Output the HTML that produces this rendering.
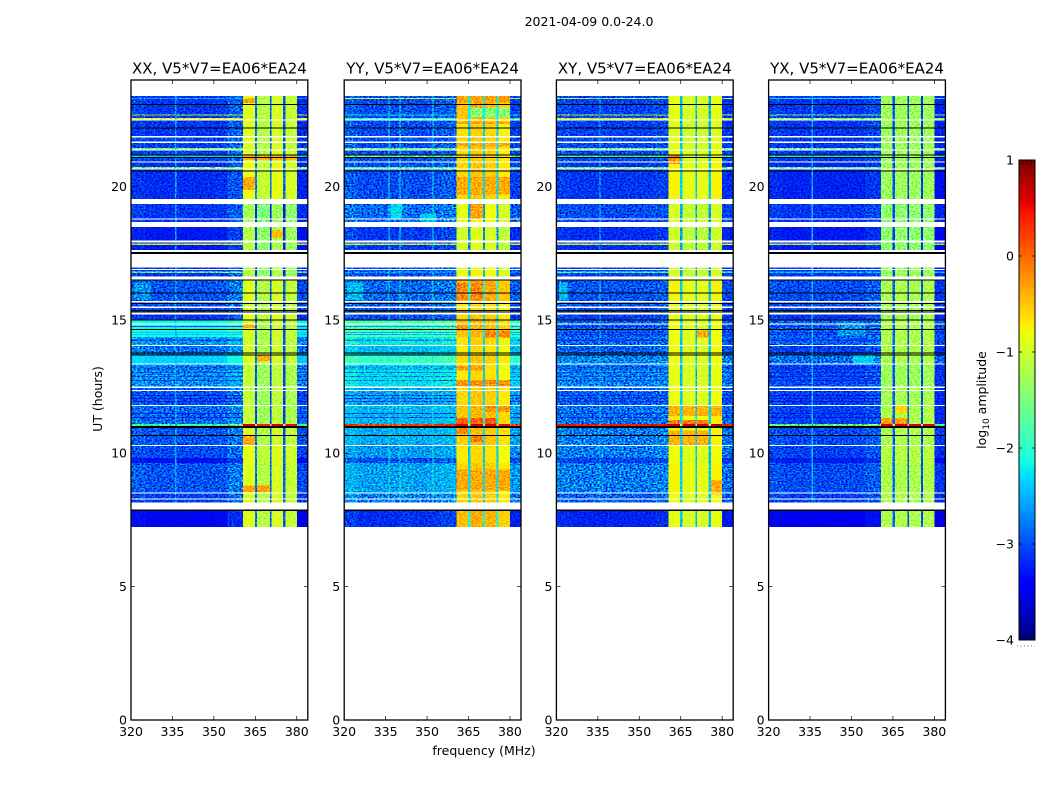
<!DOCTYPE html>
<html lang="en">
<head>
<meta charset="utf-8">
<title>2021-04-09 0.0-24.0</title>
<style>
html,body{margin:0;padding:0;background:#fff;width:1050px;height:800px;overflow:hidden}
svg{display:block;font-family:"DejaVu Sans","Liberation Sans",sans-serif}
text{fill:#000}
</style>
</head>
<body>
<svg id="fig" xmlns="http://www.w3.org/2000/svg" width="1050" height="800" viewBox="0 0 1050 800">
<defs>
<filter id="speckle" filterUnits="userSpaceOnUse" x="0" y="0" width="1050" height="800" color-interpolation-filters="sRGB">
<feTurbulence type="fractalNoise" baseFrequency="0.5 0.7" numOctaves="1" seed="4"/>
<feColorMatrix type="matrix" values="3 0 0 0 -1  3 0 0 0 -1  3 0 0 0 -1  0 0 0 0 1"/>
</filter>
<filter id="speckle-dark" filterUnits="userSpaceOnUse" x="0" y="0" width="1050" height="800" color-interpolation-filters="sRGB">
<feTurbulence type="fractalNoise" baseFrequency="0.45 0.65" numOctaves="1" seed="11"/>
<feColorMatrix type="matrix" values="1.1 0 0 0 0.43  1.1 0 0 0 0.43  1.1 0 0 0 0.43  0 0 0 0 1"/>
</filter>
</defs>
<rect x="0" y="0" width="1050" height="800" fill="#fff"/>
<text x="589" y="26" font-size="12.5" text-anchor="middle">2021-04-09 0.0-24.0</text>
<text x="484" y="755" font-size="12.5" text-anchor="middle">frequency (MHz)</text>
<text x="0" y="0" font-size="12.5" text-anchor="middle" transform="translate(102 399) rotate(-90)">UT (hours)</text>
<text x="0" y="0" font-size="12.5" text-anchor="middle" transform="translate(986 400) rotate(-90)">log<tspan font-size="9" dy="3">10</tspan><tspan dy="-3"> amplitude</tspan></text>
</svg>
<script>
// ---- chart data ----
var panelNames = ["XX", "YY", "XY", "YX"];
var panelTitleSuffix = ", V5*V7=EA06*EA24";
var xTickLabels = [320, 335, 350, 365, 380];
var yTickLabels = [0, 5, 10, 15, 20];
var colorbarTicks = [1, 0, -1, -2, -3, -4];

// frequency channel edges (MHz)
var freqEdges = [320,325,330,335,340,345,350,355,360.6,364.8,365.7,370.3,370.9,375.1,375.9,380,384];
// 1 = channel follows the in-band level, 0 = follows the out-of-band level
var channelInBand = [0,0,0,0,0,0,0,0,1,1,1,1,1,1,1,0];
// channels between the sub-bands
var channelIsNotch = [0,0,0,0,0,0,0,0,0,1,0,1,0,1,0,0];
// per-channel offsets (log10 amplitude)
var profileXX = [.05,0,0,0,0,0,.02,.2,.05,-1.9,-.2,-2,0,-2,-.1,-.05];
var profileYY = [.1,0,0,0,.05,0,.05,.1,0,-1.7,.1,-1.7,.05,-1.7,-.1,-.05];
var profileXY = [.05,0,0,0,0,0,0,.05,.05,-1.55,-.05,-1.6,-.05,-1.6,.05,-.05];
var profileYX = [.05,0,0,0,0,0,0,.1,0,-1.7,.02,-1.8,0,-1.8,.02,-.1];

// time blocks (UT hours)
var blockEnd   = [23.4,22.5,21.86,20.92,19.35,18.49,16.98,16.5,15.66,15.2,15,14.36,14.03,13.69,13.33,12.45,11.78,11.1,10.95,10.28,9.825,9.64,8.5,7.84];
var blockStart = [22.5,21.86,20.92,19.54,18.68,17.62,16.5,15.71,15.27,15,14.36,14.06,13.69,13.37,12.5,11.81,11.1,11.02,10.28,9.825,9.64,8.54,8.15,7.24];
// out-of-band level per block (log10 amplitude)
var leftXX = [-3.1,-3.1,-3.05,-3.15,-3.1,-3.25,-3.1,-2.95,-3,-3.1,-2.15,-2.6,-2.8,-2.35,-2.65,-2.95,-2.85,-1.8,-2.95,-3,-3.3,-2.95,-3.05,-3.35];
var leftYY = [-3,-3,-3,-3,-2.85,-3.1,-3,-2.85,-2.95,-3,-1.85,-2.2,-2.4,-1.95,-2.25,-2.55,-2.45,.2,-2.5,-2.6,-3,-2.55,-2.75,-3.15];
var leftXY = [-3.05,-3.05,-3,-3.1,-3,-3.15,-3.05,-2.95,-2.95,-3.05,-2.9,-2.85,-2.9,-2.7,-2.7,-2.9,-2.8,.4,-2.75,-2.75,-3.05,-2.75,-2.9,-3.2];
var leftYX = [-3.1,-3.1,-3.1,-3.2,-3.1,-3.25,-3.1,-3,-3,-3.1,-2.9,-2.9,-3.05,-2.8,-3,-3.05,-3.05,-1.6,-3,-3.05,-3.25,-3,-3.05,-3.4];
// in-band level per block
var bandXX = [-.95,-.95,-.95,-.85,-1.3,-1.2,-1.2,-.95,-1,-.9,-1,-1,-1,-.95,-1.1,-1.1,-1.1,.6,-1,-.9,-.9,-.95,-.95,-.95];
var bandYY = [-.5,-.65,-.6,-.6,-.85,-1,-.85,-.4,-.7,-.6,-.5,-.65,-.7,-.6,-.7,-.6,-.5,.6,-.55,-.7,-.7,-.6,-.6,-.45];
var bandXY = [-.9,-.95,-.9,-.8,-1,-1.05,-1,-.8,-.9,-.85,-.85,-.85,-.85,-.85,-.9,-.85,-.75,.7,-.8,-.85,-.85,-.8,-.85,-.9];
var bandYX = [-1.3,-1.3,-1.3,-1.3,-1.4,-1.4,-1.3,-1.2,-1.25,-1.25,-1.2,-1.2,-1.2,-1.2,-1.3,-1.25,-1.2,.6,-1.2,-1.15,-1.15,-1.2,-1.2,-1.2];
// blocks whose out-of-band level is smooth rather than speckled
var smoothXX = [10, 13];
var smoothYY = [10, 13];
var smoothXY = [];
var smoothYX = [];

// narrow interference / dropout rows drawn across the out-of-band channels
var lineEnd   = [23.33,22.71,22.575,21.45,21.173,20.74,17.87,16.81,14.78,14.27,14.55,14.47,13.26,13.18,13.05,12.9,12.75,12.19,12.08,11.96,11.51,11.36];
var lineStart = [23.29,22.66,22.526,21.40,21.113,20.69,17.81,16.76,14.73,14.21,14.52,14.44,13.23,13.15,13.02,12.87,12.72,12.16,12.05,11.93,11.48,11.33];
var lineXX = [-2.5,-1.2,-.8,-1.4,-2.3,-1.4,-.9,-1.5,-3,-3,-2.4,-2.4,-3,-3,-3,-3,-3,-3.2,-3.2,-3.2,-3.2,-3.2];
var lineYY = [-1,-2.2,-1.9,-1.5,-1.6,-1.8,-1,-2.6,-2.6,-2.6,-2.5,-2.5,-2.7,-2.7,-2.7,-2.7,-2.7,-3,-3,-3,-3,-3];
var lineXY = [-1.2,-1.2,-.9,-1.5,-2,-1.5,-1,-1.8,-3.1,-3.1,-3.1,-3.1,-3.1,-3,-3,-3,-3,-3.1,-3.1,-3.1,-3.1,-3.1];
var lineYX = [-2.2,-1.6,-1.3,-1.6,-2.2,-1.7,-1.1,-2.4,-3.1,-3.1,-3.1,-3.1,-3.2,-3.2,-3.2,-3.2,-3.2,-3.25,-3.25,-3.25,-3.25,-3.25];

// local patches: brighter sub-band stretches, sky blobs and narrow vertical spurs
var hotPanel = ["YY","YY","YY","YY","YY","YY","YY","YY","YY","YY","YY","YY","YY","YY","YY","YY","XX","XX","XX","XX","XX","XX","XX","XX","XY","XY","XY","XY","XY","XY","YX","YX","YY","YY","XX","YY","XY","YX","YX","XX","YY","YY","YY","XY","YX"];
var hotEnd   = [23.4,22.95,22.45,21.65,20.36,19.35,16.39,14.85,14.6,13.3,12.75,11.78,11.33,10.95,10.65,9.4,23.3,20.36,21.2,18.38,13.69,10.7,8.8,14.85,14.6,11.8,11.25,10.85,9,21.2,11.33,11.8,19.35,19,16.4,16.4,16.4,13.69,14.9,23.4,23.4,23.4,23.4,23.4,23.4];
var hotStart = [23.14,22.6,22.35,21.5,19.7,18.8,15.75,14.6,14.35,13.1,12.53,11.55,11.1,10.73,10.43,8.6,23.14,19.88,21,18.08,13.46,10.3,8.55,14.7,14.35,11.4,11.1,10.3,8.45,20.85,11.1,11.5,18.8,18.7,15.75,15.75,15.75,13.37,14.4,8.2,8.2,8.2,8.2,8.2,8.2];
var hotF0    = [360.6,365.7,360.6,360.6,360.6,365.7,360.6,360.6,370.9,360.6,360.6,370.9,360.6,360.6,365.7,360.6,360.6,360.6,360.6,370.9,365.7,360.6,360.6,360.6,370.9,360.6,360.6,360.6,375.9,360.6,360.6,365.7,336.7,347.5,321,321,321,350.6,345,336,336,340,352,335.6,335.6];
var hotF1    = [380,380,380,380,380,370.3,370.3,364.8,380,370.3,380,380,375.1,364.8,370.3,380,364.8,364.8,380,375.1,370.3,364.8,370.3,364.8,375.1,380,375.1,375.1,380,364.8,370.3,370.3,341,353.3,327,327,324,358,355,336.4,336.4,340.4,352.4,336,336];
var hotLevel = [-.3,-1.45,-.35,-.35,-.35,-.3,-.15,-.25,-.15,-.3,-.2,-.25,.05,-.15,-.1,-.35,-.3,-.35,-.4,-.45,-.35,-.35,-.3,-.4,-.35,-.4,-.1,-.4,-.35,-.2,-.3,-.6,-2.25,-2.3,-2.6,-2.4,-2.4,-2.3,-2.6,-2.5,-2.2,-2.2,-2.2,-2.4,-2.4];

// flagged (blank) time ranges, UT hours
var whiteEnd   = [22.526,21.9,21.686,21.401,20.936,20.689,19.538,18.814,18.675,17.974,17.625,17.475,16.913,16.624,15.713,15.499,15.274,14.876,14.063,13.369,12.499,12.375,11.813,10.313,8.539,8.314,8.149];
var whiteStart = [22.474,21.851,21.638,21.364,20.899,20.651,19.35,18.761,18.488,17.914,17.55,16.976,16.875,16.526,15.664,15.45,15.199,14.839,14.025,13.331,12.45,12.338,11.775,10.275,8.501,8.276,7.901];
// zero-amplitude time ranges, UT hours
var blackEnd   = [23.1,22.226,21.199,21.113,20.599,17.55,16.526,16.024,15.638,15.375,15.319,15.011,14.663,13.789,13.699,11.025,10.688,7.901];
var blackStart = [23.063,22.189,21.173,21.075,20.561,17.475,16.474,15.986,15.593,15.345,15.274,14.981,14.633,13.751,13.661,10.95,10.65,7.838];

var profiles = {XX: profileXX, YY: profileYY, XY: profileXY, YX: profileYX};
var lefts = {XX: leftXX, YY: leftYY, XY: leftXY, YX: leftYX};
var bands = {XX: bandXX, YY: bandYY, XY: bandXY, YX: bandYX};
var lines = {XX: lineXX, YY: lineYY, XY: lineXY, YX: lineYX};
var smooths = {XX: smoothXX, YY: smoothYY, XY: smoothXY, YX: smoothYX};

// ---- layout ----
var axLeft = {XX: 131, YY: 344.2, XY: 556.4, YX: 768.6};
var axWidth = 176.8, axTop = 80, axBottom = 720;
var freqMin = 320, freqMax = 384, timeMin = 0, timeMax = 24;
var cbLeft = 1019, cbRight = 1035, cbTop = 160, cbBottom = 640, cbMin = -4, cbMax = 1;

function xScale(name, f) { return axLeft[name] + (f - freqMin) / (freqMax - freqMin) * axWidth; }
function yScale(h) { return axBottom - (h - timeMin) / (timeMax - timeMin) * (axBottom - axTop); }
function cbScale(v) { return cbBottom - (v - cbMin) / (cbMax - cbMin) * (cbBottom - cbTop); }

function interp(t, xs, ys) {
  if (t <= xs[0]) return ys[0];
  for (var i = 1; i < xs.length; i++) {
    if (t <= xs[i]) return ys[i-1] + (ys[i] - ys[i-1]) * (t - xs[i-1]) / (xs[i] - xs[i-1]);
  }
  return ys[ys.length - 1];
}
function jet(v) {
  var t = Math.max(0, Math.min(1, (v - cbMin) / (cbMax - cbMin)));
  var r = interp(t, [0,.35,.66,.89,1], [0,0,1,1,.5]);
  var g = interp(t, [0,.125,.375,.64,.91,1], [0,0,1,1,0,0]);
  var b = interp(t, [0,.11,.34,.65,1], [.5,1,1,0,0]);
  return "rgb(" + Math.round(r*255) + "," + Math.round(g*255) + "," + Math.round(b*255) + ")";
}

var svg = document.getElementById("fig");
var NS = "http://www.w3.org/2000/svg";
function make(tag, parent, props) {
  var e = document.createElementNS(NS, tag);
  for (var k in props) e.setAttribute(k, props[k]);
  parent.appendChild(e);
  return e;
}
var defs = svg.querySelector("defs");

panelNames.forEach(function (name) {
  var low = name.toLowerCase();
  var g = make("g", svg, {});
  
  

  var heat = make("g", g, {"shape-rendering": "crispEdges"});
  
  

  blockStart.forEach(function (h0, b) {
    var h1 = blockEnd[b];
    for (var c = 0; c < freqEdges.length - 1; c++) {
      var base = channelInBand[c] ? bands[name][b] : lefts[name][b];
      var x0 = xScale(name, freqEdges[c]), x1 = xScale(name, freqEdges[c + 1]);
      var cell = make("rect", heat, {x: x0, y: yScale(h1), width: x1 - x0, height: yScale(h0) - yScale(h1), fill: jet(base + profiles[name][c])});
      
      
    }
  });

  lineStart.forEach(function (h0, i) {
    var h1 = lineEnd[i];
    for (var c = 0; c < freqEdges.length - 1; c++) {
      if (channelInBand[c]) continue;
      var x0 = xScale(name, freqEdges[c]), x1 = xScale(name, freqEdges[c + 1]);
      var row = make("rect", heat, {x: x0, y: yScale(h1), width: x1 - x0, height: Math.max(1, yScale(h0) - yScale(h1)), fill: jet(lines[name][i])});
      
      
    }
  });

  hotPanel.forEach(function (p, i) {
    if (p !== name) return;
    for (var c = 0; c < freqEdges.length - 1; c++) {
      if (channelIsNotch[c]) continue;
      var f0 = Math.max(hotF0[i], freqEdges[c]), f1 = Math.min(hotF1[i], freqEdges[c + 1]);
      if (f1 <= f0) continue;
      var patch = make("rect", heat, {x: xScale(name, f0), y: yScale(hotEnd[i]), width: xScale(name, f1) - xScale(name, f0), height: yScale(hotStart[i]) - yScale(hotEnd[i]), fill: jet(hotLevel[i])});
      
      
    }
  });

  // speckle texture: strong out of band, weak in band and in smooth blocks
  var bandLo = freqEdges[8], bandHi = freqEdges[15];
  var clipStrong = make("clipPath", defs, {id: "clip-strong-" + low});
  var clipWeak = make("clipPath", defs, {id: "clip-weak-" + low});
  make("rect", clipWeak, {x: xScale(name, bandLo), y: yScale(blockEnd[0]), width: xScale(name, bandHi) - xScale(name, bandLo), height: yScale(blockStart[blockStart.length - 1]) - yScale(blockEnd[0])});
  blockStart.forEach(function (h0, b) {
    var target = smooths[name].indexOf(b) >= 0 ? clipWeak : clipStrong;
    var y = yScale(blockEnd[b]), hgt = yScale(h0) - y;
    make("rect", target, {x: xScale(name, freqMin), y: y, width: xScale(name, bandLo) - xScale(name, freqMin), height: hgt});
    make("rect", target, {x: xScale(name, bandHi), y: y, width: xScale(name, freqMax) - xScale(name, bandHi), height: hgt});
  });

  var strongWrap = make("g", g, {"clip-path": "url(#clip-strong-" + low + ")", style: "mix-blend-mode:overlay"});
  
  
  var strongNoise = make("rect", strongWrap, {x: 0, y: 0, width: 1050, height: 800, filter: "url(#speckle)"});
  
  

  var darkWrap = make("g", g, {"clip-path": "url(#clip-strong-" + low + ")", style: "mix-blend-mode:multiply"});
  
  
  var darkNoise = make("rect", darkWrap, {x: 0, y: 0, width: 1050, height: 800, filter: "url(#speckle-dark)"});
  
  

  var weakWrap = make("g", g, {"clip-path": "url(#clip-weak-" + low + ")", style: "mix-blend-mode:overlay", opacity: .6});
  
  
  var weakNoise = make("rect", weakWrap, {x: 0, y: 0, width: 1050, height: 800, filter: "url(#speckle)"});
  
  

  var x0 = axLeft[name];
  whiteStart.forEach(function (h0, i) {
    var gap = make("rect", g, {x: x0, y: yScale(whiteEnd[i]), width: axWidth, height: yScale(h0) - yScale(whiteEnd[i]), fill: "#fff", "shape-rendering": "crispEdges"});
    
    
  });
  blackStart.forEach(function (h0, i) {
    var gap = make("rect", g, {x: x0, y: yScale(blackEnd[i]), width: axWidth, height: yScale(h0) - yScale(blackEnd[i]), fill: "#000", "shape-rendering": "crispEdges"});
    
    
  });

  var frame = make("rect", g, {x: x0, y: axTop, width: axWidth, height: axBottom - axTop, fill: "none", stroke: "#000", "stroke-width": 1.3});
  
  

  xTickLabels.forEach(function (f) {
    var x = xScale(name, f);
    var t1 = make("line", g, {x1: x, x2: x, y1: axBottom, y2: axBottom - 4, stroke: "#000", "stroke-width": .7});
    
    
    var t2 = make("line", g, {x1: x, x2: x, y1: axTop, y2: axTop + 4, stroke: "#000", "stroke-width": .7});
    
    
    var lab = make("text", g, {x: x, y: 736, "font-size": 12.5, "text-anchor": "middle"});
    lab.textContent = f;
    
    
  });
  yTickLabels.forEach(function (h) {
    var y = yScale(h);
    var t1 = make("line", g, {x1: x0, x2: x0 + 4, y1: y, y2: y, stroke: "#000", "stroke-width": .7});
    
    
    var t2 = make("line", g, {x1: x0 + axWidth, x2: x0 + axWidth - 4, y1: y, y2: y, stroke: "#000", "stroke-width": .7});
    
    
    var lab = make("text", g, {x: x0 - 4, y: y + 4.4, "font-size": 12.5, "text-anchor": "end"});
    lab.textContent = h;
    
    
  });

  var title = make("text", g, {x: x0 + axWidth / 2, y: 73.5, "font-size": 15, "text-anchor": "middle"});
  title.textContent = name + panelTitleSuffix;
  
  
});

// ---- colorbar ----
var cb = make("g", svg, {});


var steps = 120;
for (var s = 0; s < steps; s++) {
  var v0 = cbMin + (cbMax - cbMin) * s / steps;
  var v1 = cbMin + (cbMax - cbMin) * (s + 1) / steps;
  var sw = make("rect", cb, {x: cbLeft, y: cbScale(v1), width: cbRight - cbLeft, height: cbScale(v0) - cbScale(v1) + .5, fill: jet((v0 + v1) / 2), "shape-rendering": "crispEdges"});
  
  
}
var cbFrame = make("rect", cb, {x: cbLeft, y: cbTop, width: cbRight - cbLeft, height: cbBottom - cbTop, fill: "none", stroke: "#000", "stroke-width": 1});


colorbarTicks.forEach(function (v) {
  var y = cbScale(v);
  var t = make("line", cb, {x1: cbLeft, x2: cbLeft + 3, y1: y, y2: y, stroke: "#000", "stroke-width": .7});
  
  
  var t2 = make("line", cb, {x1: cbRight, x2: cbRight - 3, y1: y, y2: y, stroke: "#000", "stroke-width": .7});
  
  
  var lab = make("text", cb, {x: cbLeft - 5, y: y + 4.4, "font-size": 12.5, "text-anchor": "end"});
  lab.textContent = v < 0 ? "\u2212" + Math.abs(v) : String(v);
  
  
});
for (var m = 1; m < 4; m++) {
  var mx = cbLeft + m * (cbRight - cbLeft) / 4;
  var mt = make("line", cb, {x1: mx, x2: mx, y1: cbTop, y2: cbTop + 5, stroke: "#000", "stroke-width": .7});
  
  
  var mb = make("line", cb, {x1: mx, x2: mx, y1: cbBottom, y2: cbBottom - 5, stroke: "#000", "stroke-width": .7});
  
  
}
var dots = make("line", cb, {x1: 1017, x2: 1035, y1: 646, y2: 646, stroke: "#777", "stroke-width": 1, "stroke-dasharray": "1 2.5"});


</script>
</body>
</html>
